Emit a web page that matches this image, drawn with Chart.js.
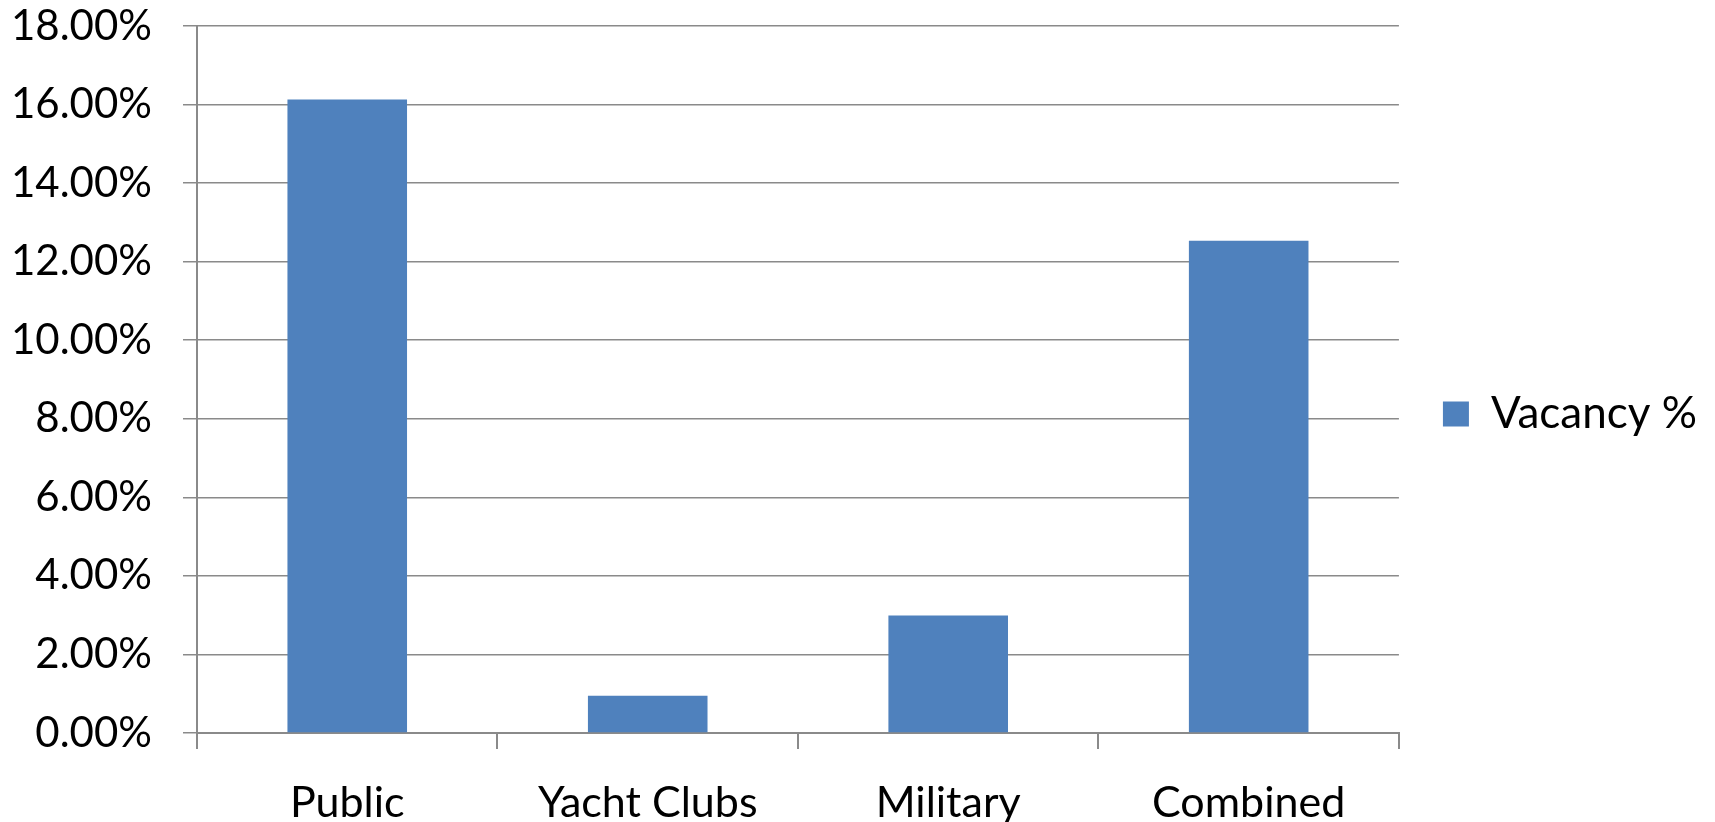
<!DOCTYPE html>
<html>
<head>
<meta charset="utf-8">
<script src="https://cdn.jsdelivr.net/npm/chart.js@4/dist/chart.umd.min.js"></script>
<style>
  html, body { margin: 0; padding: 0; background: #ffffff; }
  #wrap { width: 1715px; height: 822px; position: relative; }
</style>
</head>
<body>
<div id="wrap"><canvas id="c" width="1715" height="822"></canvas></div>
<script>
const categories = ["Public", "Yacht Clubs", "Military", "Combined"];
const seriesName = "Vacancy %";
const vacancyPct = [16.13, 0.95, 2.99, 12.53];
const yTickMin = 0;
const yTickMax = 18;
const yTickStep = 2;

const GRID = '#8a8a8a';
const FONT = 'Lato';

// let the x-axis label band reach the bottom edge of the canvas
const extendXAxis = {
  id: 'extendXAxis',
  afterLayout(chart) {
    const s = chart.scales.x;
    s.bottom = chart.height;
    s.height = s.bottom - s.top;
  }
};

new Chart(document.getElementById('c'), {
  type: 'bar',
  data: {
    labels: categories,
    datasets: [{
      label: seriesName,
      data: vacancyPct,
      backgroundColor: '#4F81BD',
      borderWidth: 0,
      categoryPercentage: 1.0,
      barPercentage: 0.398
    }]
  },
  plugins: [extendXAxis],
  options: {
    responsive: false,
    animation: false,
    devicePixelRatio: 1,
    layout: { padding: { top: 26, left: 0, right: 8, bottom: 20 } },
    plugins: {
      tooltip: { enabled: false },
      legend: {
        position: 'right',
        align: 'center',
        labels: {
          font: { family: FONT, size: 44 },
          color: '#000000',
          boxWidth: 26,
          boxHeight: 25,
          padding: 44
        }
      }
    },
    scales: {
      x: {
        offset: true,
        grid: {
          offset: true,
          drawOnChartArea: false,
          drawTicks: true,
          tickLength: 16,
          color: GRID,
          lineWidth: 2
        },
        border: { display: true, color: GRID, width: 2 },
        ticks: {
          font: { family: FONT, size: 43 },
          color: '#000000',
          padding: 28,
          maxRotation: 0
        },
        afterFit: (s) => { s.height = 69; }
      },
      y: {
        min: yTickMin,
        max: yTickMax,
        grid: {
          drawTicks: true,
          tickLength: 14,
          color: GRID,
          lineWidth: 1.5
        },
        border: { display: true, color: GRID, width: 2 },
        ticks: {
          stepSize: yTickStep,
          font: { family: FONT, size: 42 },
          color: '#000000',
          padding: 31,
          callback: (v) => Number(v).toFixed(2) + '%'
        },
        afterFit: (s) => { s.width = 197; s.paddingTop = 0; s.paddingBottom = 0; }
      }
    }
  }
});
</script>
</body>
</html>
